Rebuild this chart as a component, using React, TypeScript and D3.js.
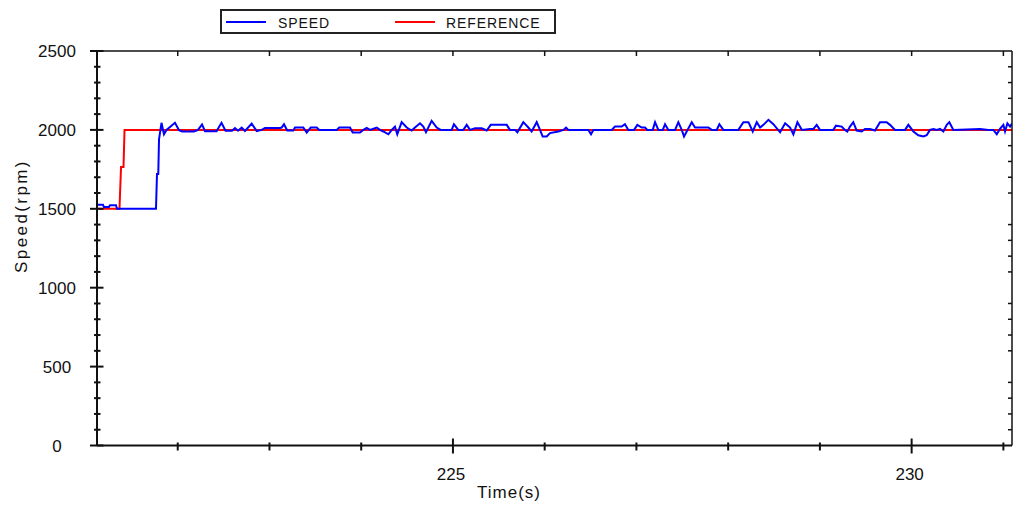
import React, { useEffect, useRef } from 'react';
import * as d3 from 'd3';

// [time (s), speed (rpm)]
const speed: [number, number][] = [
  [221.12, 1525], [221.185, 1525], [221.196, 1512], [221.251, 1512], [221.262, 1522], [221.327, 1522],
  [221.338, 1500], [221.763, 1500], [221.774, 1720], [221.788, 1720], [221.796, 1940], [221.823, 2045],
  [221.85, 1972], [221.878, 2000], [221.97, 2045], [222.014, 1998], [222.047, 1990], [222.177, 1990],
  [222.221, 2000], [222.265, 2035], [222.297, 1992], [222.423, 1992], [222.477, 2045], [222.521, 1995],
  [222.592, 1995], [222.624, 2012], [222.657, 1995], [222.697, 2015], [222.733, 1993], [222.806, 2040],
  [222.861, 1993], [222.915, 2000], [222.951, 2012], [223.115, 2012],
  [223.133, 2015], [223.158, 2036], [223.194, 1996], [223.26, 1996], [223.278, 2015], [223.369, 2015],
  [223.406, 1983], [223.449, 2015], [223.515, 2015], [223.543, 2000], [223.733, 2000], [223.761, 2015],
  [223.878, 2015], [223.907, 1983], [223.987, 1983], [224.023, 2000], [224.06, 2012], [224.096, 2000],
  [224.169, 2015], [224.205, 2000], [224.241, 1990], [224.296, 1972], [224.333, 2000], [224.368, 2021],
  [224.393, 1972], [224.441, 2049], [224.496, 2015], [224.55, 1996], [224.586, 2015], [224.641, 2042],
  [224.677, 2021], [224.706, 1985], [224.768, 2057], [224.823, 2015], [224.866, 2000], [224.986, 2000],
  [225.011, 2036], [225.058, 2000], [225.113, 2000], [225.15, 2032], [225.186, 2000], [225.241, 2010],
  [225.314, 2010], [225.368, 1996], [225.412, 2032], [225.586, 2032], [225.622, 2000], [225.677, 2000],
  [225.702, 1985], [225.767, 2049], [225.822, 2015], [225.858, 1990], [225.913, 2049], [225.949, 2000],
  [225.978, 1958], [226.022, 1958], [226.058, 1980], [226.149, 1990], [226.204, 2000],
  [226.233, 2015], [226.258, 2000], [226.476, 2000], [226.505, 1972], [226.531, 2000], [226.731, 2000],
  [226.766, 2021], [226.839, 2021], [226.875, 2036], [226.912, 2000], [226.974, 2000], [227.01, 2032],
  [227.058, 2015], [227.094, 2015], [227.119, 2000], [227.178, 2000], [227.203, 2049], [227.239, 2000],
  [227.287, 2000], [227.312, 2036], [227.348, 2000], [227.421, 2000], [227.457, 2049], [227.494, 2000],
  [227.519, 1958], [227.548, 1990], [227.603, 2049], [227.639, 2015], [227.784, 2015], [227.821, 2000],
  [227.875, 2000], [227.904, 2036], [227.948, 2000], [228.111, 2000], [228.166, 2049], [228.221, 2049],
  [228.268, 1990], [228.312, 2049], [228.348, 2015], [228.384, 2032], [228.439, 2064], [228.493, 2036],
  [228.566, 1985], [228.621, 2042], [228.675, 2015], [228.711, 1972], [228.755, 2049], [228.804, 2000],
  [228.892, 2006], [228.929, 2006], [228.965, 2032], [229.001, 2000], [229.146, 2000], [229.175, 2027],
  [229.238, 2021], [229.273, 2000], [229.299, 1990], [229.328, 2021], [229.364, 2049], [229.401, 1996],
  [229.456, 1990], [229.491, 2006], [229.546, 2006], [229.601, 1996], [229.655, 2049], [229.728, 2049],
  [229.764, 2032], [229.819, 2000], [229.928, 2000], [229.964, 2032], [230.019, 1990], [230.073, 1966],
  [230.128, 1958], [230.164, 1966], [230.2, 2000], [230.237, 2006], [230.273, 2000], [230.31, 2006],
  [230.346, 1990], [230.383, 2032], [230.411, 2049], [230.455, 2000], [230.746, 2006], [230.837, 2000],
  [230.891, 2000], [230.928, 1972], [230.963, 2006], [231.0, 2032], [231.018, 1990], [231.044, 2042],
  [231.073, 2021], [231.094, 2040],
];

// [time (s), reference (rpm)]
const reference: [number, number][] = [
  [221.12, 1500], [221.365, 1500], [221.382, 1765], [221.409, 1765], [221.42, 2000], [231.094, 2000],
];

const timeDomain = [221.12, 231.094];
const speedDomain = [0, 2500];
const yMajorTicks = [0, 500, 1000, 1500, 2000, 2500];
const xMajorTicks = [225, 230];
const legendItems = [
  { label: 'SPEED', color: '#0000ff' },
  { label: 'REFERENCE', color: '#ff0000' },
];

const App = () => {
  const svgRef = useRef(null);

  useEffect(() => {
    const svg = d3.select(svgRef.current);
    svg.selectAll('*').remove();

    const width = 1014;
    const height = 506;
    const left = 97;
    const right = 1012;
    const top = 51;
    const bottom = 445.5;
    const font = '"Liberation Sans", Arial, sans-serif';
    const ink = '#111';

    const x = d3.scaleLinear().domain(timeDomain).range([left, right]);
    const y = d3.scaleLinear().domain(speedDomain).range([bottom, top]);

    svg.append('rect').attr('width', width).attr('height', height).attr('fill', '#fff');

    // clip the traces to the plot box
    svg.append('defs').append('clipPath').attr('id', 'plot-clip')
      .append('rect')
      .attr('x', left).attr('y', top)
      .attr('width', right - left).attr('height', bottom - top);

    const line = d3.line<[number, number]>()
      .x((d) => x(d[0]))
      .y((d) => y(d[1]));

    const traces = svg.append('g').attr('clip-path', 'url(#plot-clip)');
    traces.append('path')
      .attr('d', line(reference))
      .attr('fill', 'none')
      .attr('stroke', '#ff0000')
      .attr('stroke-width', 2);
    traces.append('path')
      .attr('d', line(speed))
      .attr('fill', 'none')
      .attr('stroke', '#0000ff')
      .attr('stroke-width', 2);

    // frame
    const axes = svg.append('g').attr('stroke', ink).attr('stroke-width', 2);
    axes.append('line').attr('x1', left).attr('x2', left).attr('y1', top).attr('y2', bottom);
    axes.append('line').attr('x1', left).attr('x2', right).attr('y1', bottom).attr('y2', bottom);
    axes.append('line').attr('x1', left).attr('x2', right).attr('y1', top).attr('y2', top).attr('stroke-width', 1.5);
    axes.append('line').attr('x1', right).attr('x2', right).attr('y1', top).attr('y2', bottom).attr('stroke-width', 1.5);

    // y ticks
    const yMinor = y.ticks(25).filter((t) => !yMajorTicks.includes(t));
    axes.selectAll('.ymin').data(yMinor).enter().append('line')
      .attr('x1', left - 3).attr('x2', left + 3.5)
      .attr('y1', (d) => y(d)).attr('y2', (d) => y(d));
    axes.selectAll('.ymaj').data(yMajorTicks).enter().append('line')
      .attr('x1', left - 7).attr('x2', left + 6.5)
      .attr('y1', (d) => y(d)).attr('y2', (d) => y(d));
    axes.selectAll('.yright').data(yMinor).enter().append('line')
      .attr('stroke-width', 1.5)
      .attr('x1', right - 4).attr('x2', right)
      .attr('y1', (d) => y(d)).attr('y2', (d) => y(d));

    // x ticks
    const xTicks = x.ticks(10);
    axes.selectAll('.xtick').data(xTicks).enter().append('line')
      .attr('x1', (d) => x(d)).attr('x2', (d) => x(d))
      .attr('y1', (d) => (xMajorTicks.includes(d) ? bottom - 7 : bottom - 3))
      .attr('y2', (d) => (xMajorTicks.includes(d) ? bottom + 8 : bottom + 5));
    axes.selectAll('.xtop').data(xTicks).enter().append('line')
      .attr('stroke-width', 1.5)
      .attr('x1', (d) => x(d)).attr('x2', (d) => x(d))
      .attr('y1', top).attr('y2', top + 5);

    // tick labels
    svg.selectAll('.ylab').data(yMajorTicks).enter().append('text')
      .attr('x', 57).attr('y', (d) => y(d)).attr('dy', '0.36em')
      .attr('text-anchor', 'middle')
      .attr('font-family', font).attr('font-size', 17).attr('fill', ink)
      .text((d) => d);
    svg.selectAll('.xlab').data(xMajorTicks).enter().append('text')
      .attr('x', (d) => x(d) - 2).attr('y', 480)
      .attr('text-anchor', 'middle')
      .attr('font-family', font).attr('font-size', 17).attr('fill', ink)
      .text((d) => d);

    // axis titles
    svg.append('text')
      .attr('x', 509).attr('y', 498)
      .attr('text-anchor', 'middle')
      .attr('font-family', font).attr('font-size', 17).attr('letter-spacing', 1).attr('fill', ink)
      .text('Time(s)');
    svg.append('text')
      .attr('transform', 'translate(27,216) rotate(-90)')
      .attr('text-anchor', 'middle')
      .attr('font-family', font).attr('font-size', 17).attr('letter-spacing', 2.4).attr('fill', ink)
      .text('Speed(rpm)');

    // legend
    const legend = svg.append('g');
    legend.append('rect')
      .attr('x', 221).attr('y', 10).attr('width', 334).attr('height', 23)
      .attr('fill', '#fff').attr('stroke', '#222').attr('stroke-width', 2);
    const items = legend.selectAll('.item').data(legendItems).enter().append('g')
      .attr('transform', (d, i) => `translate(${226 + i * 169},0)`);
    items.append('line')
      .attr('x1', 0).attr('x2', 40).attr('y1', 22).attr('y2', 22)
      .attr('stroke', (d) => d.color).attr('stroke-width', 2);
    items.append('text')
      .attr('x', (d, i) => (i === 0 ? 52 : 51)).attr('y', 28)
      .attr('font-family', font).attr('font-size', 14).attr('letter-spacing', 0.9).attr('fill', ink)
      .text((d) => d.label);
  }, []);

  return (
    <svg ref={svgRef} width={1014} height={506} style={{ position: 'absolute', left: 0, top: 0 }} />
  );
};

export default App;
